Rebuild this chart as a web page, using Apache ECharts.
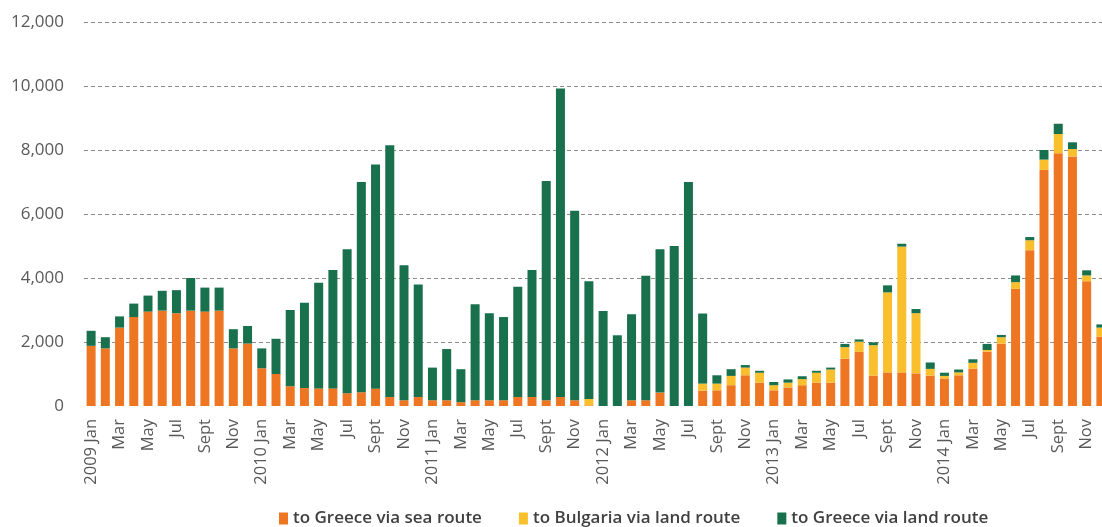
<!DOCTYPE html>
<html>
<head>
<meta charset="utf-8">
<script src="https://cdn.jsdelivr.net/npm/echarts@6/dist/echarts.min.js"></script>
<style>
html,body{margin:0;padding:0;background:#fff;}
#chart{width:1102px;height:527px;}
</style>
</head>
<body>
<div id="chart"></div>
<script>
const years = ['2009','2010','2011','2012','2013','2014'];
const months = ['Jan','Feb','Mar','Apr','May','Jun','Jul','Aug','Sept','Oct','Nov','Dec'];
const seriesNames = ['to Greece via sea route','to Bulgaria via land route','to Greece via land route'];
const yTicks = [0, 2000, 4000, 6000, 8000, 10000, 12000];

const greeceSea = [
  1880,1800,2450,2780,2950,2980,2900,2980,2950,2980,1800,1950,
  1180,1000,620,560,550,550,400,430,540,280,180,280,
  180,180,120,180,180,180,280,280,180,280,180,20,
  0,0,180,180,420,0,0,480,490,650,960,730,
  490,580,650,730,730,1480,1690,950,1050,1050,1020,950,
  860,960,1170,1700,1950,3660,4870,7380,7900,7800,3900,2170
];
const bulgariaLand = [
  0,0,0,0,0,0,0,0,0,0,0,0,
  0,0,0,0,0,0,0,0,0,0,0,0,
  0,0,0,0,0,0,0,0,0,0,0,200,
  0,0,0,0,0,0,0,220,210,290,240,310,
  160,150,190,310,410,360,320,950,2500,3930,1880,210,
  80,90,180,50,200,210,310,320,600,230,180,280
];
const greeceLand = [
  470,350,350,420,500,620,720,1020,750,720,600,550,
  620,1100,2380,2670,3300,3700,4500,6570,7010,7870,4220,3520,
  1020,1600,1030,3000,2720,2600,3450,3970,6850,9640,5920,3680,
  2970,2210,2690,3890,4480,5000,7000,2190,260,210,80,60,
  100,100,90,60,60,100,70,90,220,90,130,200,
  100,90,110,190,70,210,100,300,320,210,160,100
];

const categories = [];
years.forEach(y => months.forEach((m, i) => categories.push(i === 0 ? y + ' ' + m : m)));

const colors = ['#EE7623', '#F9BF2C', '#18704C'];
const font = '"Open Sans", "Noto Sans", sans-serif';

const chart = echarts.init(document.getElementById('chart'), null, {renderer: 'canvas'});
chart.setOption({
  animation: false,
  color: colors,
  grid: {left: 84, width: 1024, top: 22, bottom: 121, containLabel: false, outerBoundsMode: 'none'},
  legend: {
    left: 274, top: 505, itemGap: 37,
    icon: 'rect', itemWidth: 9, itemHeight: 12,
    textStyle: {fontFamily: font, fontSize: 17, fontWeight: 600, color: '#404040'},
    data: seriesNames
  },
  xAxis: {
    type: 'category',
    data: categories,
    axisTick: {show: false},
    axisLine: {show: false},
    axisLabel: {interval: 1, rotate: 90, margin: 13, fontFamily: font, fontSize: 16.5, color: '#595959'}
  },
  yAxis: {
    type: 'value',
    min: yTicks[0], max: yTicks[yTicks.length - 1], interval: yTicks[1] - yTicks[0],
    axisLine: {show: false},
    axisTick: {show: false},
    splitLine: {show: true, showMinLine: false, lineStyle: {color: '#8c8c8c', type: [4, 3], width: 1}},
    axisLabel: {
      margin: 20, fontFamily: font, fontSize: 17, color: '#595959',
      formatter: v => v.toLocaleString('en-US')
    }
  },
  series: [
    {name: seriesNames[0], type: 'bar', stack: 'total', data: greeceSea, barWidth: 9},
    {name: seriesNames[1], type: 'bar', stack: 'total', data: bulgariaLand, barWidth: 9},
    {name: seriesNames[2], type: 'bar', stack: 'total', data: greeceLand, barWidth: 9}
  ]
});
</script>
</body>
</html>
